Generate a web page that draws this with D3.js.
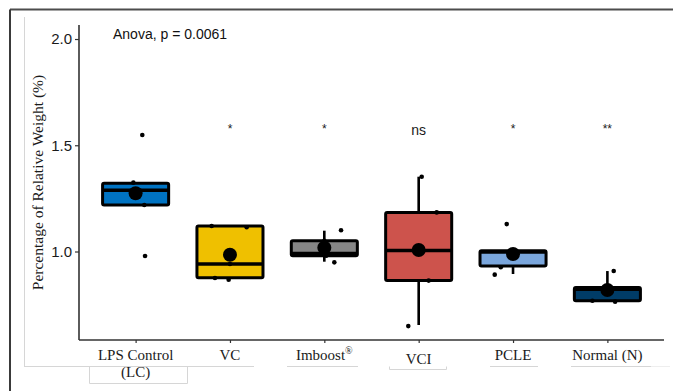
<!DOCTYPE html>
<html><head><meta charset="utf-8">
<script src="https://cdn.jsdelivr.net/npm/d3@7"></script>
<style>html,body{margin:0;padding:0;background:#fff;}svg{display:block;}</style>
</head><body>
<svg id="chart" width="673" height="391"></svg>
<script>
// ---- data ----
const categories = ["LPS Control|(LC)", "VC", "Imboost®", "VCI", "PCLE", "Normal (N)"];
const colors = ["#0073C2", "#EFC000", "#868686", "#CD534C", "#7AA6DC", "#003C67"];
const q1 = [1.219, 0.877, 0.980, 0.863, 0.932, 0.768];
const medians = [1.288, 0.941, 0.990, 1.005, 0.998, 0.822];
const q3 = [1.321, 1.120, 1.051, 1.183, 1.004, 0.830];
const whiskerLow = [1.219, 0.875, 0.952, 0.654, 0.894, 0.768];
const whiskerHigh = [1.321, 1.120, 1.098, 1.352, 1.004, 0.908];
const means = [1.274, 0.985, 1.018, 1.007, 0.988, 0.819];
const pointValues = [
  [1.548, 1.324, 1.219, 0.979, 1.290],
  [1.120, 1.114, 0.875, 0.867, 0.941],
  [1.100, 0.949, 0.980, 0.990, 1.050],
  [1.352, 1.184, 0.863, 0.649, 1.000],
  [1.129, 0.926, 0.891, 0.996, 1.004],
  [0.908, 0.768, 0.764, 0.820, 0.830]
];
const pointJitter = [
  [0.071, -0.024, 0.092, 0.100, 0.0],
  [-0.194, 0.177, -0.159, -0.014, 0.0],
  [0.177, 0.106, 0.02, -0.02, 0.0],
  [0.032, 0.191, 0.106, -0.110, 0.0],
  [-0.067, -0.130, -0.194, 0.0, 0.01],
  [0.067, -0.159, 0.082, 0.0, 0.01]
];
const sigLabels = ["", "*", "*", "ns", "*", "**"];
const yTicks = [1.0, 1.5, 2.0];
const anovaText = "Anova, p = 0.0061";
const yTitle = "Percentage of Relative Weight (%)";

// ---- layout ----
const svg = d3.select("#chart");
const pLeft = 79, pRight = 664, pTop = 25, pBottom = 340;
const x = d3.scalePoint().domain(d3.range(categories.length)).range([pLeft, pRight]).padding(0.6);
const step = x.step();
const y = d3.scaleLinear().domain([0.5835, 2.066]).range([pBottom, pTop]);
const boxW = step * 0.70;

// decorative frame (page artifacts)
svg.append("line").attr("x1", 10).attr("y1", 9.5).attr("x2", 673).attr("y2", 9.5).attr("stroke", "#4d4d4d").attr("stroke-width", 2);
svg.append("line").attr("x1", 10).attr("y1", 9.5).attr("x2", 10).attr("y2", 391).attr("stroke", "#3a3a3a").attr("stroke-width", 2);
const light = "#d6d6d6";
svg.append("line").attr("x1", 24.5).attr("y1", 17).attr("x2", 24.5).attr("y2", 366).attr("stroke", light).attr("stroke-width", 1);
[[24, 254], [287, 358], [490, 538], [571, 651]].forEach(s => {
  svg.append("line").attr("x1", s[0]).attr("y1", 366.5).attr("x2", s[1]).attr("y2", 366.5).attr("stroke", light).attr("stroke-width", 1);
});
svg.append("line").attr("x1", 651).attr("y1", 366.5).attr("x2", 670).attr("y2", 366.5).attr("stroke", "#eeeeee").attr("stroke-width", 1);
svg.append("path").attr("d", "M89.5,366.5V383.5H187.5V366.5").attr("fill", "none").attr("stroke", light).attr("stroke-width", 1);
svg.append("path").attr("d", "M389.5,366.5V369.5H446.5V366.5").attr("fill", "none").attr("stroke", light).attr("stroke-width", 1);

// axes
const yAxis = svg.append("g").attr("transform", `translate(${pLeft},0)`)
  .call(d3.axisLeft(y).tickValues(yTicks).tickFormat(d3.format(".1f")).tickSize(4).tickSizeOuter(0));
yAxis.select(".domain").attr("stroke", "#333").attr("stroke-width", 1.6).attr("d", `M0,${pTop}V${pBottom}`);
yAxis.selectAll(".tick line").attr("stroke", "#333").attr("stroke-width", 1.2);
yAxis.selectAll(".tick text").attr("font-family", "Liberation Sans, Arial, sans-serif").attr("font-size", 15).attr("fill", "#1a1a1a").attr("x", -7);

const xAxis = svg.append("g").attr("transform", `translate(0,${pBottom})`)
  .call(d3.axisBottom(x).tickSize(3).tickSizeOuter(0).tickFormat(""));
xAxis.select(".domain").attr("stroke", "#333").attr("stroke-width", 1.6).attr("d", `M${pLeft},0H${pRight}`);
xAxis.selectAll(".tick line").attr("stroke", "#333").attr("stroke-width", 1.2);

// x labels
categories.forEach((c, i) => {
  const parts = c.split("|");
  const t = svg.append("text").attr("x", x(i)).attr("y", i === 3 ? 364 : 360)
    .attr("text-anchor", "middle").attr("font-family", "Liberation Serif, Times New Roman, serif")
    .attr("font-size", 15).attr("fill", "#1a1a1a");
  if (c.includes("®")) {
    t.append("tspan").text(c.replace("®", ""));
    t.append("tspan").text("®").attr("font-size", 10).attr("dy", -6);
  } else {
    t.append("tspan").text(parts[0]);
    if (parts[1]) t.append("tspan").attr("x", x(i)).attr("dy", 17).text(parts[1]);
  }
});

// y title
svg.append("text").attr("transform", `translate(43,${(pTop + pBottom) / 2}) rotate(-90)`)
  .attr("text-anchor", "middle").attr("font-family", "Liberation Serif, Times New Roman, serif")
  .attr("font-size", 15.5).attr("fill", "#1a1a1a").text(yTitle);

// boxes
const g = svg.append("g");
categories.forEach((c, i) => {
  const cx = x(i);
  g.append("line").attr("x1", cx).attr("x2", cx).attr("y1", y(whiskerHigh[i])).attr("y2", y(whiskerLow[i]))
    .attr("stroke", "#000").attr("stroke-width", 2.6);
  g.append("rect").attr("x", cx - boxW / 2).attr("width", boxW)
    .attr("y", y(q3[i])).attr("height", y(q1[i]) - y(q3[i]))
    .attr("rx", 1.5).attr("fill", colors[i]).attr("stroke", "#000").attr("stroke-width", 3);
  g.append("line").attr("x1", cx - boxW / 2).attr("x2", cx + boxW / 2).attr("y1", y(medians[i])).attr("y2", y(medians[i]))
    .attr("stroke", "#000").attr("stroke-width", 3.6);
  pointValues[i].forEach((v, j) => {
    g.append("circle").attr("cx", cx + pointJitter[i][j] * step).attr("cy", y(v)).attr("r", 2.3).attr("fill", "#000");
  });
  g.append("circle").attr("cx", cx).attr("cy", y(means[i])).attr("r", 7).attr("fill", "#000");
  if (sigLabels[i]) {
    const isNs = sigLabels[i] === "ns";
    g.append("text").attr("x", cx).attr("y", isNs ? 135 : 133).attr("text-anchor", "middle")
      .attr("font-family", "Liberation Sans, Arial, sans-serif").attr("font-size", isNs ? 14 : 12)
      .attr("fill", "#1a1a1a").text(sigLabels[i]);
  }
});

// anova label
svg.append("text").attr("x", 113).attr("y", 39).attr("font-family", "Liberation Sans, Arial, sans-serif")
  .attr("font-size", 14).attr("fill", "#111").text(anovaText);
</script>
</body></html>
